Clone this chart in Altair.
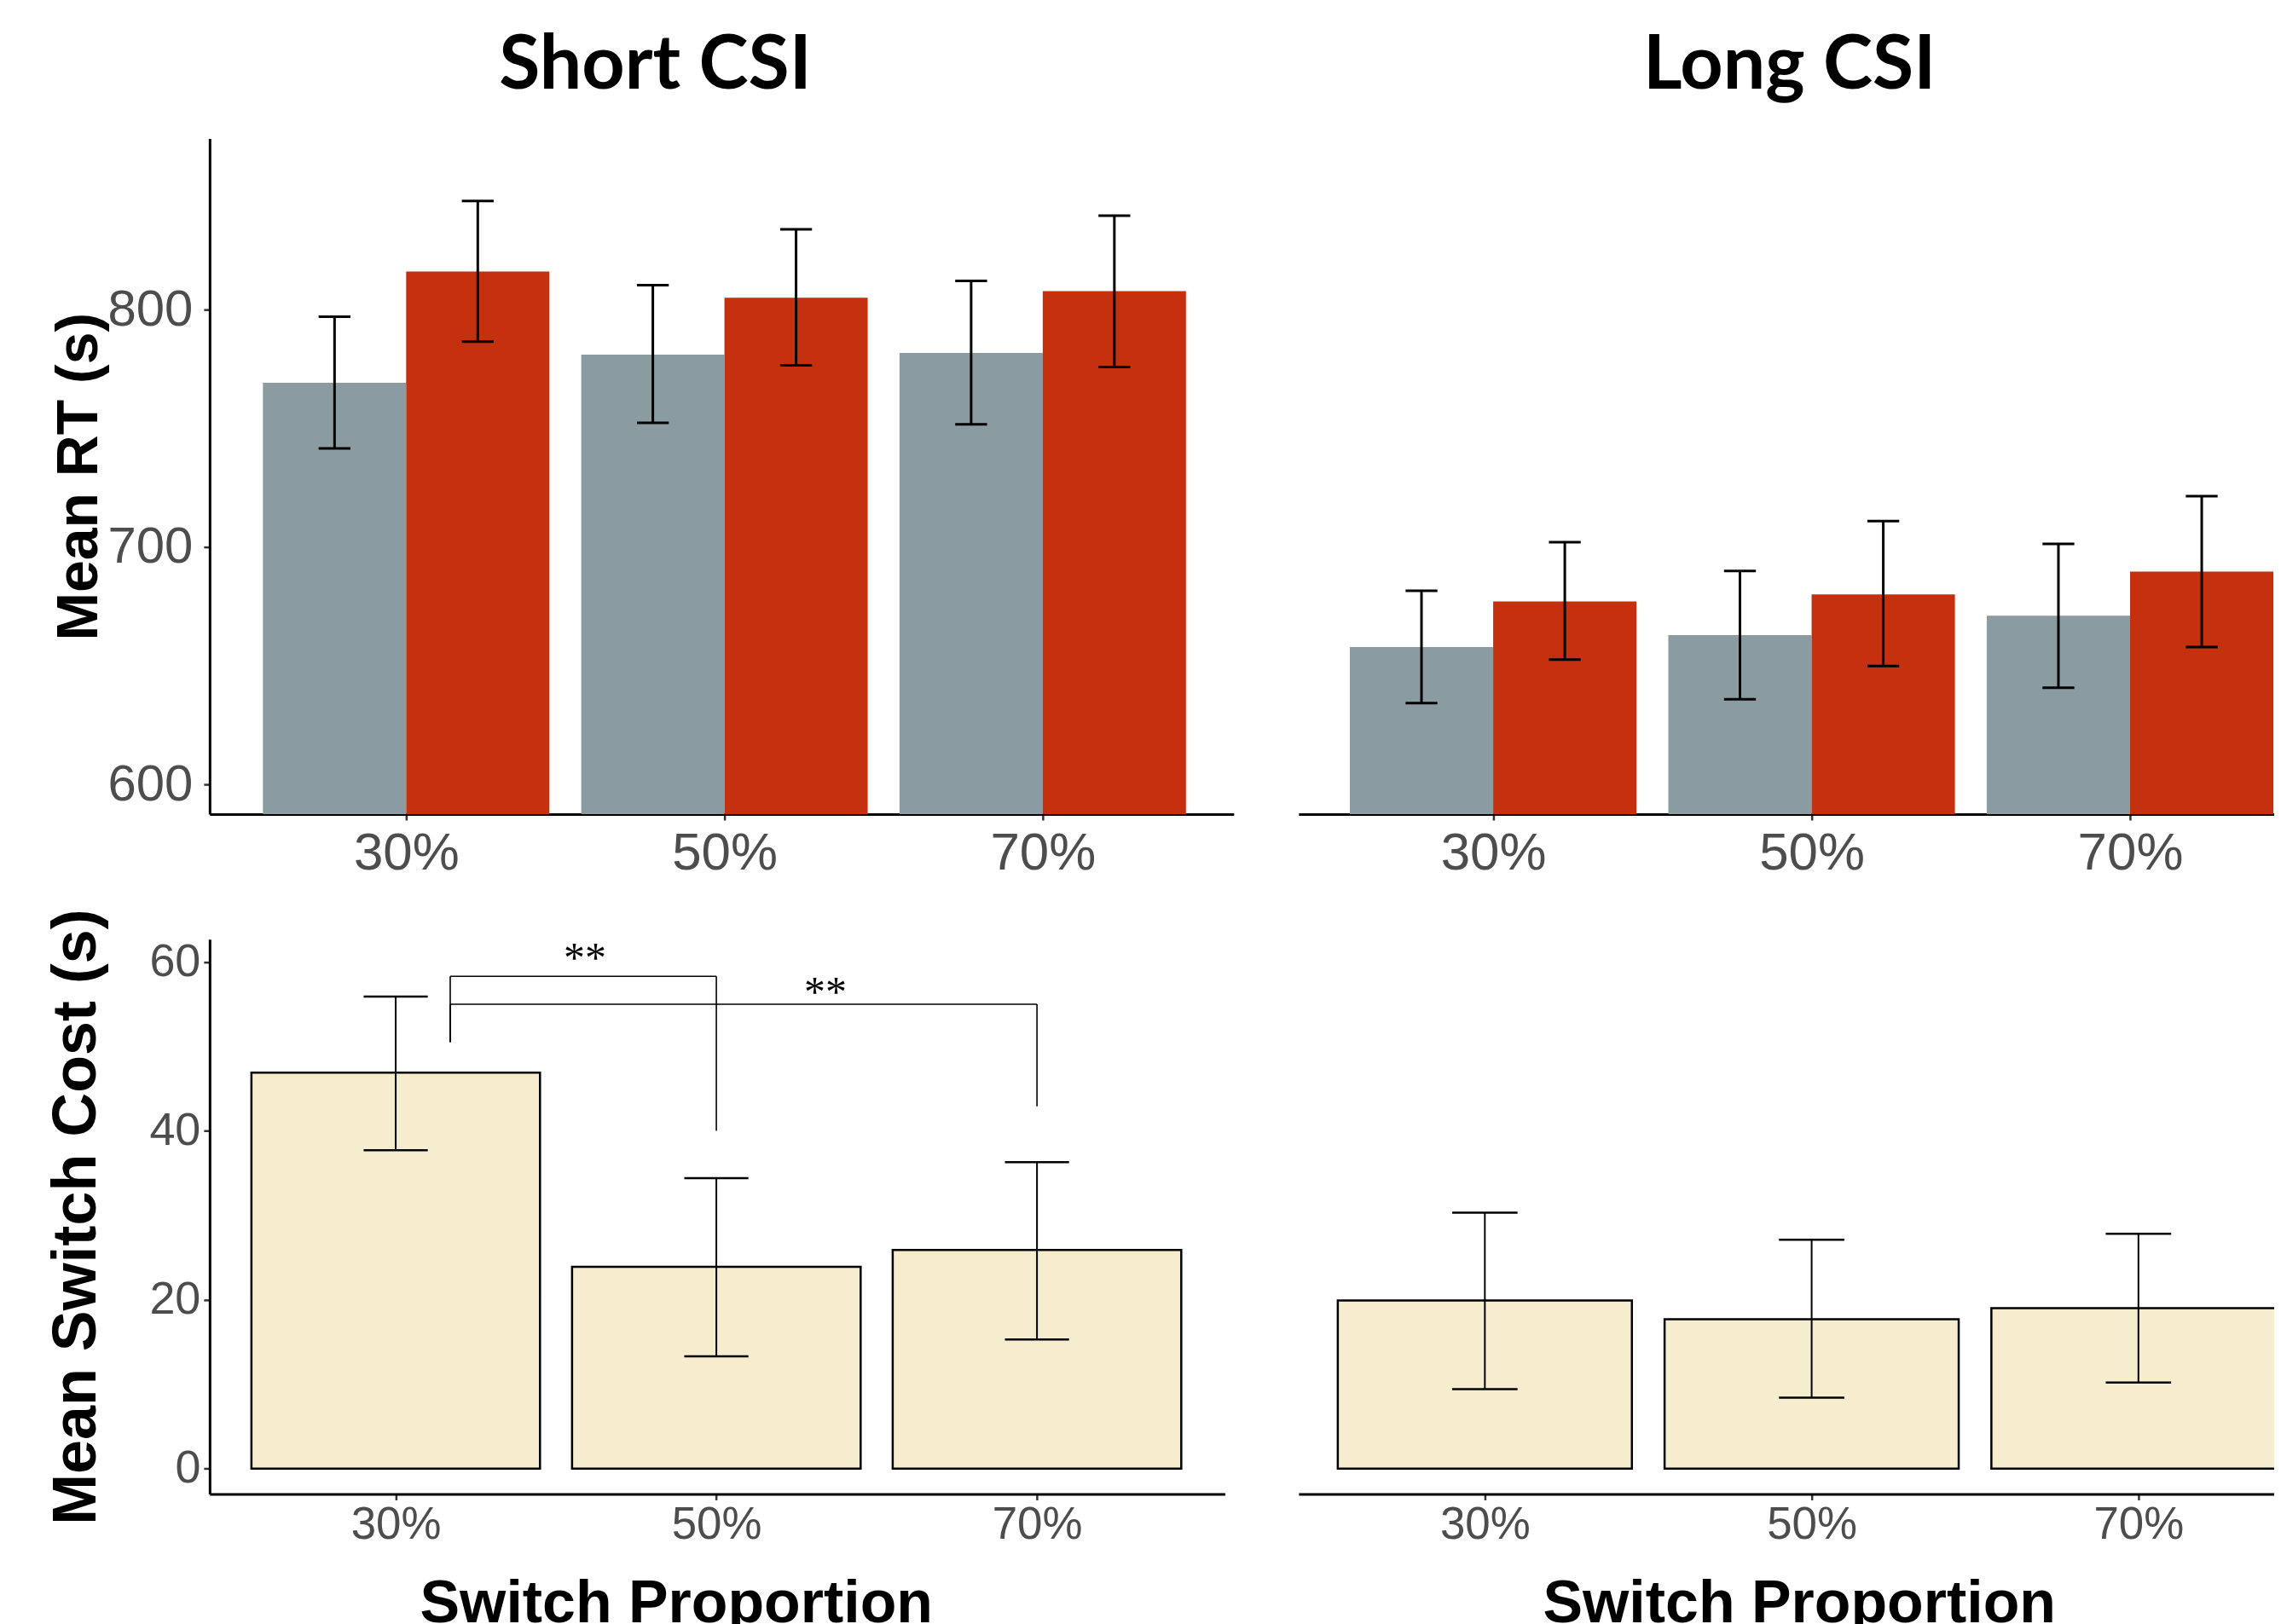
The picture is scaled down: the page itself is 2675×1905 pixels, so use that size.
import altair as alt
import pandas as pd

props = ["30%", "50%", "70%"]
conditions = ["Repeat", "Switch"]

# Mean RT -- Short CSI
short_repeat = [769.2, 781.0, 781.7]
short_repeat_lo = [741.5, 752.3, 751.7]
short_repeat_hi = [797.0, 810.3, 812.1]
short_switch = [816.0, 805.0, 807.8]
short_switch_lo = [786.5, 776.5, 775.8]
short_switch_hi = [845.7, 833.8, 839.5]
# Mean RT -- Long CSI
long_repeat = [657.9, 662.9, 671.1]
long_repeat_lo = [634.3, 635.9, 640.7]
long_repeat_hi = [681.6, 689.9, 701.3]
long_switch = [677.1, 680.0, 689.6]
long_switch_lo = [652.6, 649.9, 657.9]
long_switch_hi = [702.0, 710.9, 721.4]
# Mean switch cost
short_cost = [46.9, 23.9, 25.9]
short_cost_lo = [37.7, 13.3, 15.3]
short_cost_hi = [55.9, 34.4, 36.3]
long_cost = [19.9, 17.7, 19.0]
long_cost_lo = [9.4, 8.4, 10.2]
long_cost_hi = [30.3, 27.1, 27.8]

# significance brackets (short CSI switch cost)
sig_start = [1.17, 1.17]
sig_end = ["50%", "70%"]
sig_height = [58.3, 55.0]
sig_left_end = [50.5, 50.5]
sig_right_end = [40.0, 42.9]
sig_text = ["**", "**"]
sig_text_x = [1.59, 2.34]
sig_text_y = [61.2, 57.1]

GRAY = "#8A9CA1"
RED = "#C5310F"
CREAM = "#F5EDCE"
LABEL_EXPR = "[" + ",".join("'%s'" % p for p in props) + "][datum.value - 1]"
DODGE = 0.45


def rt_frame(rep, rep_lo, rep_hi, sw, sw_lo, sw_hi):
    rows = []
    for i, p in enumerate(props):
        c = i + 1
        rows.append(dict(prop=p, cond=conditions[0], x1=c - DODGE, x2=c, xc=c - DODGE / 2,
                         mean=rep[i], lo=rep_lo[i], hi=rep_hi[i]))
        rows.append(dict(prop=p, cond=conditions[1], x1=c, x2=c + DODGE, xc=c + DODGE / 2,
                         mean=sw[i], lo=sw_lo[i], hi=sw_hi[i]))
    df = pd.DataFrame(rows)
    df["cl"] = df["xc"] - 0.05
    df["cr"] = df["xc"] + 0.05
    return df


def rt_panel(df, title, title_dx, width, xdomain, show_y, title_x=None):
    xs = alt.Scale(domain=xdomain, nice=False, zero=False)
    ys = alt.Scale(domain=[587.5, 872], nice=False, zero=False)
    xax = alt.Axis(values=[1, 2, 3], labelExpr=LABEL_EXPR, title=None, labelFontSize=62,
                   labelPadding=9, tickSize=7, labelFlush=False, labelOverlap=False)
    if show_y:
        yax = alt.Axis(values=[600, 700, 800], title="Mean RT (s)", labelFontSize=60,
                       labelPadding=13, tickSize=7, titleFontSize=68, titleX=title_x)
    else:
        yax = None
    base = alt.Chart(df)
    bars = base.mark_bar(clip=True).encode(
        x=alt.X("x1:Q", scale=xs, axis=xax),
        x2="x2:Q",
        y=alt.Y("mean:Q", scale=ys, axis=yax),
        y2=alt.datum(0),
        color=alt.Color("cond:N", scale=alt.Scale(domain=conditions, range=[GRAY, RED]), legend=None),
    )
    err = base.mark_rule(color="black", strokeWidth=3).encode(
        x=alt.X("xc:Q", scale=xs, axis=xax),
        y=alt.Y("lo:Q", scale=ys, axis=yax),
        y2="hi:Q",
    )
    cap_hi = base.mark_rule(color="black", strokeWidth=3).encode(
        x=alt.X("cl:Q", scale=xs, axis=xax), x2="cr:Q",
        y=alt.Y("hi:Q", scale=ys, axis=yax),
    )
    cap_lo = base.mark_rule(color="black", strokeWidth=3).encode(
        x=alt.X("cl:Q", scale=xs, axis=xax), x2="cr:Q",
        y=alt.Y("lo:Q", scale=ys, axis=yax),
    )
    return alt.layer(bars, err, cap_hi, cap_lo).properties(
        width=width, height=794,
        title=alt.TitleParams(text=title, font="Lato", fontSize=88, fontWeight="bold",
                              color="black", anchor="middle", frame="group", dx=title_dx,
                              offset=-29, baseline="alphabetic"),
    )


def cost_panel(vals, lo, hi, width, xdomain, show_y, xtitle_x, title_x=None, sig=False):
    df = pd.DataFrame(dict(prop=props, c=[1, 2, 3], mean=vals, lo=lo, hi=hi))
    df["x1"] = df["c"] - 0.45
    df["x2"] = df["c"] + 0.45
    df["cl"] = df["c"] - 0.1
    df["cr"] = df["c"] + 0.1
    xs = alt.Scale(domain=xdomain, nice=False, zero=False)
    ys = alt.Scale(domain=[-3.0, 62.7], nice=False, zero=False)
    xax = alt.Axis(values=[1, 2, 3], labelExpr=LABEL_EXPR, title="Switch Proportion",
                   labelFontSize=53, labelPadding=3, tickSize=7, labelFlush=False,
                   labelOverlap=False, titleFontSize=70, titleX=xtitle_x, titleY=150,
                   titleAlign="center", titleBaseline="alphabetic")
    if show_y:
        yax = alt.Axis(values=[0, 20, 40, 60], title="Mean Switch Cost (s)", labelFontSize=54,
                       labelPadding=4, tickSize=7, titleFontSize=72, titleX=title_x)
    else:
        yax = None
    base = alt.Chart(df)
    bars = base.mark_bar(fill=CREAM, stroke="black", strokeWidth=2.5, clip=True).encode(
        x=alt.X("x1:Q", scale=xs, axis=xax), x2="x2:Q",
        y=alt.Y("mean:Q", scale=ys, axis=yax), y2=alt.datum(0),
    )
    err = base.mark_rule(color="black", strokeWidth=2).encode(
        x=alt.X("c:Q", scale=xs, axis=xax),
        y=alt.Y("lo:Q", scale=ys, axis=yax), y2="hi:Q",
    )
    cap_hi = base.mark_rule(color="black", strokeWidth=2.5).encode(
        x=alt.X("cl:Q", scale=xs, axis=xax), x2="cr:Q",
        y=alt.Y("hi:Q", scale=ys, axis=yax),
    )
    cap_lo = base.mark_rule(color="black", strokeWidth=2.5).encode(
        x=alt.X("cl:Q", scale=xs, axis=xax), x2="cr:Q",
        y=alt.Y("lo:Q", scale=ys, axis=yax),
    )
    layers = [bars, err, cap_hi, cap_lo]
    if sig:
        sdf = pd.DataFrame(dict(x0=sig_start, xe=[props.index(e) + 1 for e in sig_end],
                                yh=sig_height, yl=sig_left_end, yr=sig_right_end))
        tdf = pd.DataFrame(dict(t=sig_text, tx=sig_text_x, ty=sig_text_y))
        sb = alt.Chart(sdf)
        horiz = sb.mark_rule(color="black", strokeWidth=1.6).encode(
            x=alt.X("x0:Q", scale=xs, axis=xax), x2="xe:Q",
            y=alt.Y("yh:Q", scale=ys, axis=yax))
        leg_l = sb.mark_rule(color="black", strokeWidth=1.6).encode(
            x=alt.X("x0:Q", scale=xs, axis=xax),
            y=alt.Y("yh:Q", scale=ys, axis=yax), y2="yl:Q")
        leg_r = sb.mark_rule(color="black", strokeWidth=1.6).encode(
            x=alt.X("xe:Q", scale=xs, axis=xax),
            y=alt.Y("yh:Q", scale=ys, axis=yax), y2="yr:Q")
        txt = alt.Chart(tdf).mark_text(font="Liberation Serif", fontSize=50, color="black",
                                       baseline="middle", align="center", dy=8).encode(
            x=alt.X("tx:Q", scale=xs, axis=xax),
            y=alt.Y("ty:Q", scale=ys, axis=yax), text="t:N")
        layers += [horiz, leg_l, leg_r, txt]
    return alt.layer(*layers).properties(width=width, height=652)


top_left = rt_panel(rt_frame(short_repeat, short_repeat_lo, short_repeat_hi,
                             short_switch, short_switch_lo, short_switch_hi),
                    "Short CSI", -78, 1203.4, [0.3825, 3.6], True, title_x=-119)
top_right = rt_panel(rt_frame(long_repeat, long_repeat_lo, long_repeat_hi,
                              long_switch, long_switch_lo, long_switch_hi),
                     "Long CSI", -24, 1201.6, [0.389, 3.6], False)
bot_left = cost_panel(short_cost, short_cost_lo, short_cost_hi, 1193.0, [0.4196, 3.586], True,
                      548, title_x=-120, sig=True)
bot_right = cost_panel(long_cost, long_cost_lo, long_cost_hi, 1217.3, [0.430, 3.6], False, 588)

chart = alt.concat(
    top_left, top_right, bot_left, bot_right,
    columns=2, spacing={"row": 33, "column": 75.6}, align="each",
).properties(
    padding={"left": 44.3, "top": 24, "right": -71, "bottom": -13}
).configure_view(stroke=None).configure_axis(
    grid=False, domainColor="black", domainWidth=3, tickColor="#333333", tickWidth=2.5,
    labelColor="#4D4D4D", labelFont="Liberation Sans", titleFont="Liberation Sans",
    titleFontWeight="bold", titleColor="black",
)

chart.save("out.html", embed_options={"renderer": "svg", "actions": False})
